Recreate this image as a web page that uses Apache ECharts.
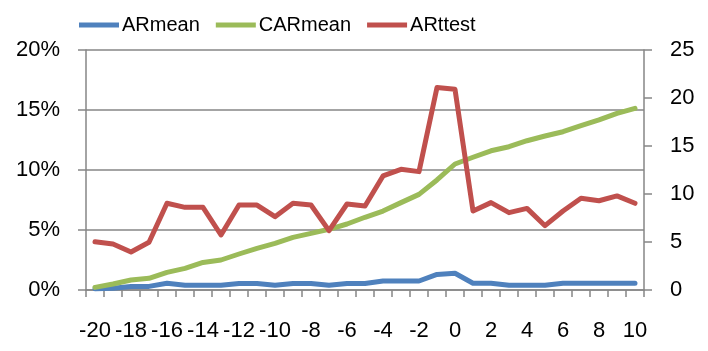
<!DOCTYPE html>
<html>
<head>
<meta charset="utf-8">
<script src="https://cdn.jsdelivr.net/npm/echarts@6/dist/echarts.min.js"></script>
<style>
html,body{margin:0;padding:0;background:#fff;}
#c{width:708px;height:351px;}
</style>
</head>
<body>
<div id="c"></div>
<script>
var categories = ['-20','-19','-18','-17','-16','-15','-14','-13','-12','-11','-10','-9','-8','-7','-6','-5','-4','-3','-2','-1','0','1','2','3','4','5','6','7','8','9','10'];
var arMean = [0.1,0.15,0.3,0.3,0.56,0.4,0.4,0.4,0.55,0.55,0.4,0.55,0.55,0.4,0.55,0.55,0.75,0.75,0.75,1.3,1.4,0.56,0.56,0.4,0.4,0.4,0.56,0.56,0.56,0.56,0.56];
var carMean = [0.22,0.5,0.83,0.97,1.47,1.8,2.3,2.5,3.0,3.47,3.89,4.39,4.72,5.06,5.5,6.06,6.58,7.28,7.97,9.17,10.5,11.06,11.6,11.94,12.44,12.83,13.19,13.69,14.17,14.72,15.14];
var arTtest = [5.03,4.79,3.96,4.97,9.03,8.61,8.61,5.73,8.85,8.85,7.64,9.03,8.85,6.18,8.96,8.75,11.88,12.57,12.33,21.1,20.9,8.23,9.1,8.06,8.5,6.7,8.23,9.55,9.3,9.8,9.03];
var seriesNames = ['ARmean','CARmean','ARttest'];
var colors = ['#4F81BD','#9BBB59','#C0504D'];

var font = 'Liberation Sans';
var gray = '#868686';
var chart = echarts.init(document.getElementById('c'), null, {renderer:'canvas'});
function lineSeries(name, data, color, yIdx){
  return {name:name, type:'line', data:data, yAxisIndex:yIdx, symbol:'none', color:color,
    lineStyle:{color:color, width:5, cap:'round', join:'round'}, animation:false};
}
chart.setOption({
  animation:false,
  backgroundColor:'#fff',
  legend:{
    data:seriesNames, left:74, top:10, icon:'rect', itemWidth:40, itemHeight:5, itemGap:16,
    textStyle:{fontFamily:font, fontSize:20, color:'#000', padding:[0,0,0,-2]}
  },
  grid:{left:86, right:64, top:50, bottom:61},
  xAxis:{
    type:'category', data:categories, boundaryGap:true,
    axisLine:{lineStyle:{color:gray, width:1.5}},
    axisTick:{show:true, interval:0, length:7, lineStyle:{color:gray, width:1.5}},
    axisLabel:{interval:1, margin:30, fontFamily:font, fontSize:22, color:'#000'}
  },
  yAxis:[
    {type:'value', min:0, max:20, interval:5, position:'left',
     axisLine:{show:true, lineStyle:{color:gray, width:1.5}},
     axisTick:{show:true, length:8, lineStyle:{color:gray, width:1.5}},
     splitLine:{show:true, lineStyle:{color:gray, width:1.5}},
     axisLabel:{formatter:'{value}%', margin:26, fontFamily:font, fontSize:22, color:'#000'}},
    {type:'value', min:0, max:25, interval:5, position:'right',
     axisLine:{show:true, lineStyle:{color:gray, width:1.5}},
     axisTick:{show:true, length:8, lineStyle:{color:gray, width:1.5}},
     splitLine:{show:false},
     axisLabel:{margin:26, fontFamily:font, fontSize:22, color:'#000'}}
  ],
  series:[
    lineSeries(seriesNames[0], arMean, colors[0], 0),
    lineSeries(seriesNames[1], carMean, colors[1], 0),
    lineSeries(seriesNames[2], arTtest, colors[2], 1)
  ]
});
</script>
</body>
</html>
